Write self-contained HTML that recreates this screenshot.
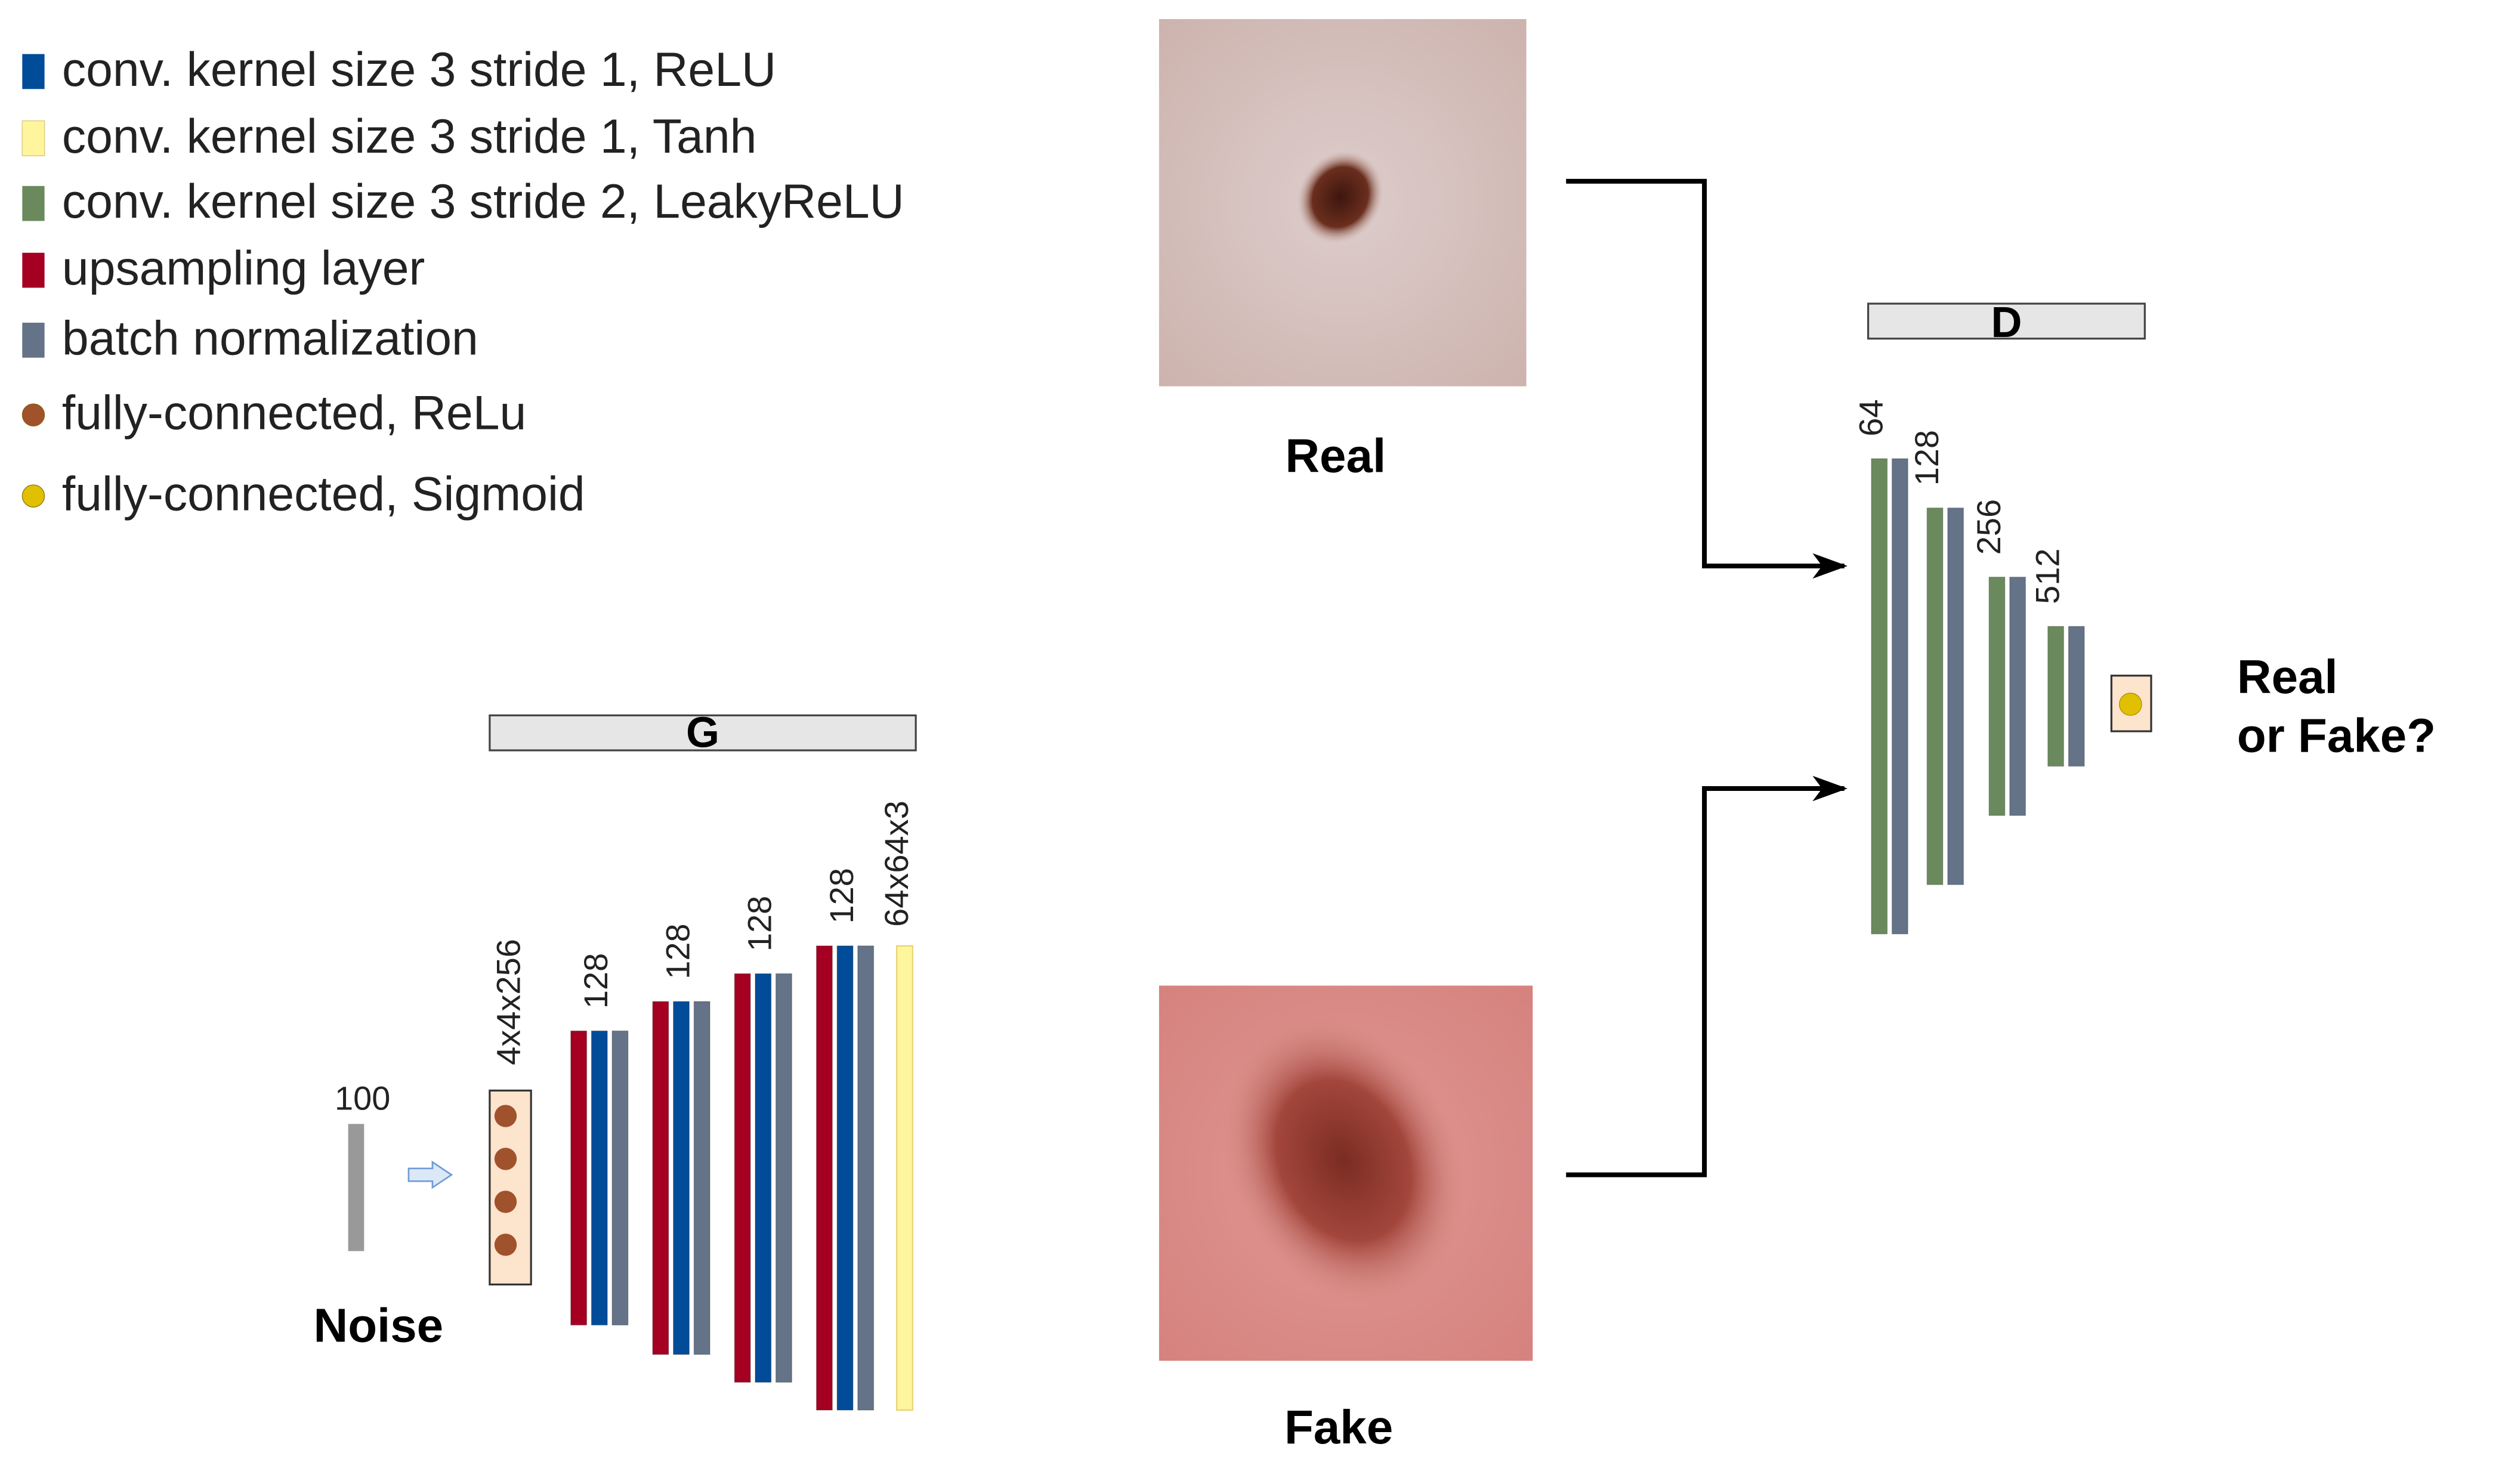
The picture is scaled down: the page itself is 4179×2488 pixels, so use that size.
<!DOCTYPE html>
<html><head><meta charset="utf-8"><style>
html,body{margin:0;padding:0;background:#fff;}
svg{display:block;font-family:"Liberation Sans",Arial,sans-serif;}
</style></head><body>
<svg id="fig" width="4179" height="2488" viewBox="0 0 1568 933.5" preserveAspectRatio="none" xmlns="http://www.w3.org/2000/svg">
<defs>
<radialGradient id="realSkin" cx="0.5" cy="0.5" r="0.7"><stop offset="0" stop-color="#ddcdcc"/><stop offset="1" stop-color="#cdb3ad"/></radialGradient>
<radialGradient id="realMole" cx="0.5" cy="0.5" r="0.5"><stop offset="0" stop-color="#3e160e"/><stop offset="0.65" stop-color="#6a2e1e"/><stop offset="1" stop-color="#c9a89c" stop-opacity="0"/></radialGradient>
<radialGradient id="fakeSkin" cx="0.5" cy="0.5" r="0.7"><stop offset="0" stop-color="#df9894"/><stop offset="1" stop-color="#d6827e"/></radialGradient>
<radialGradient id="fakeMole" cx="0.5" cy="0.5" r="0.5"><stop offset="0" stop-color="#7a2c22"/><stop offset="0.55" stop-color="#a3463c"/><stop offset="1" stop-color="#d68a84" stop-opacity="0"/></radialGradient>
<marker id="ah" markerWidth="22" markerHeight="16" refX="20" refY="8" orient="auto" markerUnits="userSpaceOnUse"><path d="M0,0 L22,8 L0,16 L6,8 Z" fill="#000"/></marker>
</defs>
<g id="legend"></g>
<g id="gen"></g>
<g id="disc"></g>
</svg>
<script>
const NS="http://www.w3.org/2000/svg";
const svg=document.getElementById('fig');
function mk(tag,attrs,parent,text){const e=document.createElementNS(NS,tag);for(const k in attrs)e.setAttribute(k,attrs[k]);if(text!==undefined)e.textContent=text;(parent||svg).appendChild(e);return e;}

// ---- data ----
const legendLabels=["conv. kernel size 3 stride 1, ReLU","conv. kernel size 3 stride 1, Tanh","conv. kernel size 3 stride 2, LeakyReLU","upsampling layer","batch normalization","fully-connected, ReLu","fully-connected, Sigmoid"];
const legendColors=["#004c99","#fff59d","#6a8a5e","#a50021","#647387","#a0522d","#e0c000"];
const genLabels=["128","128","128","128"];
const genHeights=[185,222,257,292];
const discLabels=["64","128","256","512"];
const discHeights=[299,237,150,88];

// ---- legend ----
const lg=document.getElementById('legend');
const legendY=[45,87,128,170,214,261,312];
legendLabels.forEach((t,i)=>{
  const y=legendY[i];
  let m;
  if(i<5){m=mk('rect',{x:14,y:y-11,width:14,height:22,fill:legendColors[i],stroke:i==1?'#e0d080':'none','stroke-width':0.6},lg);}
  else{m=mk('circle',{cx:21,cy:y,r:7,fill:legendColors[i],stroke:'#806000','stroke-width':0.4},lg);}
  
  
  const tx=mk('text',{x:39,y:y+9,'font-size':30.2,fill:'#222'},lg,t);
  
  
});

// ---- generator ----
const g=document.getElementById('gen');
const gb=mk('rect',{x:308,y:450,width:268,height:22,fill:'#e6e6e6',stroke:'#444','stroke-width':1.2},g);

const gt=mk('text',{x:442,y:470,'font-size':27,'font-weight':'bold','text-anchor':'middle'},g,'G');

const nz=mk('rect',{x:219,y:707,width:10,height:80,fill:'#999'},g);

const n100=mk('text',{x:228,y:698,'font-size':21,'text-anchor':'middle',fill:'#222'},g,'100');

const nl=mk('text',{x:238,y:844,'font-size':30,'font-weight':'bold','text-anchor':'middle'},g,'Noise');

const ar=mk('path',{d:'M257,735 L272,735 L272,731 L284,739 L272,747 L272,743 L257,743 Z',fill:'#dbe8f8',stroke:'#6f9bd8','stroke-width':1},g);

const fc=mk('rect',{x:308,y:686,width:26,height:122,fill:'#fde4cc',stroke:'#333','stroke-width':1.2},g);

[702,729,756,783].forEach(cy=>{const c=mk('circle',{cx:318,cy:cy,r:7,fill:'#a0522d'},g);
  });
function vlabel(parent,x,bottom,txt,fs){const t=mk('text',{x:0,y:0,'font-size':fs||21,fill:'#222',transform:`translate(${x+7},${bottom}) rotate(-90)`},parent,txt);return t;}
const l0=vlabel(g,320,670,'4x4x256');
const genCenter=741;
const genX0=359, genStep=51.5;
const colCols=["#a50021","#004c99","#647387"];
genHeights.forEach((h,i)=>{
  const x=genX0+i*genStep, top=genCenter-h/2;
  colCols.forEach((c,j)=>{const r=mk('rect',{x:x+j*13,y:top,width:10,height:h,fill:c,stroke:'rgba(0,0,0,0.25)','stroke-width':0.5},g);
    
    });
  const t=vlabel(g,x+16,top-14,genLabels[i]);
  
});
const yh=genHeights[genHeights.length-1];
const yl=mk('rect',{x:564,y:genCenter-yh/2,width:10,height:yh,fill:'#fff59d',stroke:'#e8d070','stroke-width':0.8},g);

const yt=vlabel(g,564,genCenter-yh/2-12,'64x64x3');


// ---- images ----
const d=document.getElementById('disc');
const ri=mk('g',{},d);
mk('rect',{x:729,y:12,width:231,height:231,fill:'url(#realSkin)'},ri);
mk('ellipse',{cx:843,cy:124,rx:30,ry:26,fill:'url(#realMole)',transform:'rotate(-60 843 124)'},ri);
const rl=mk('text',{x:840,y:297,'font-size':30,'font-weight':'bold','text-anchor':'middle'},d,'Real');

const fi=mk('g',{},d);
mk('rect',{x:729,y:620,width:235,height:236,fill:'url(#fakeSkin)'},fi);
mk('ellipse',{cx:845,cy:730,rx:72,ry:95,fill:'url(#fakeMole)',transform:'rotate(-25 845 730)'},fi);
const fl=mk('text',{x:842,y:908,'font-size':30,'font-weight':'bold','text-anchor':'middle'},d,'Fake');

const a1=mk('path',{d:'M985,114 L1072,114 L1072,356 L1160,356',fill:'none',stroke:'#000','stroke-width':3,'marker-end':'url(#ah)'},d);

const a2=mk('path',{d:'M985,739 L1072,739 L1072,496 L1160,496',fill:'none',stroke:'#000','stroke-width':3,'marker-end':'url(#ah)'},d);


// ---- discriminator ----
const db=mk('rect',{x:1175,y:191,width:174,height:22,fill:'#e6e6e6',stroke:'#444','stroke-width':1.2},d);

const dt=mk('text',{x:1262,y:212,'font-size':27,'font-weight':'bold','text-anchor':'middle'},d,'D');

const discCenter=438;
const discX=[1177,1212,1251,1288];
discHeights.forEach((h,i)=>{
  const x=discX[i], top=discCenter-h/2;
  const r1=mk('rect',{x:x,y:top,width:10,height:h,fill:'#6a8a5e',stroke:'rgba(0,0,0,0.2)','stroke-width':0.5},d);
  
  const r2=mk('rect',{x:x+13,y:top,width:10,height:h,fill:'#647387',stroke:'rgba(0,0,0,0.2)','stroke-width':0.5},d);
  
  const t=vlabel(d,x,top-14,discLabels[i]);
  
});
const sb=mk('rect',{x:1328,y:425,width:25,height:35,fill:'#fde4cc',stroke:'#333','stroke-width':1.2},d);

const sd=mk('circle',{cx:1340,cy:443,r:7,fill:'#e0c000',stroke:'#b09000','stroke-width':0.5},d);

const o1=mk('text',{x:1407,y:436,'font-size':30,'font-weight':'bold'},d,'Real');

const o2=mk('text',{x:1407,y:473,'font-size':30,'font-weight':'bold'},d,'or Fake?');

</script>
</body></html>
